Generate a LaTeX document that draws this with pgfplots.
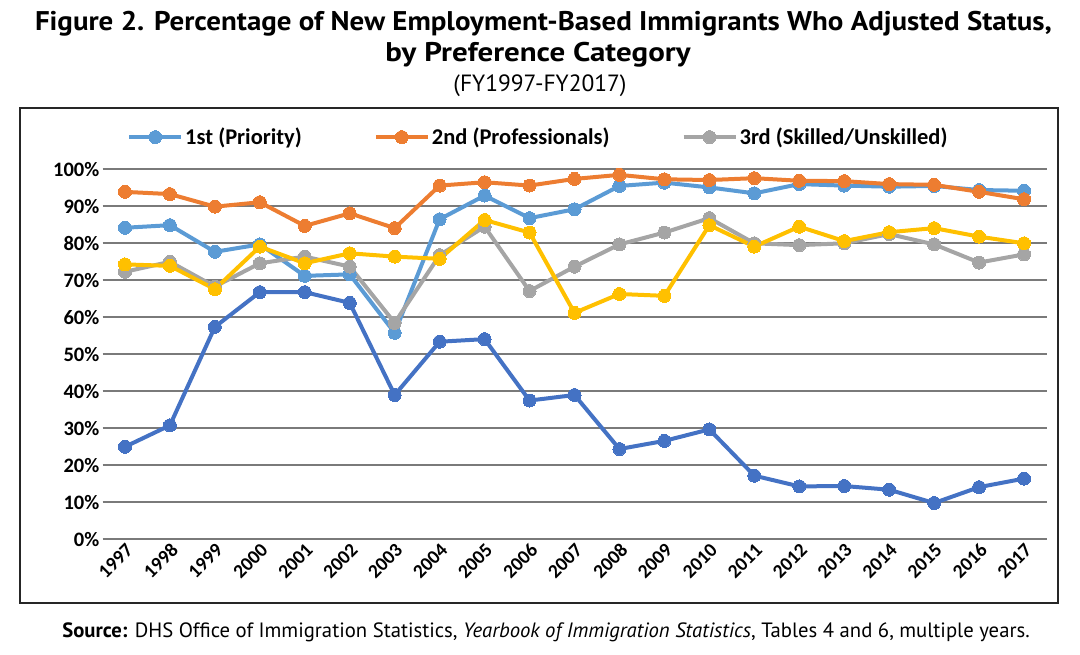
\documentclass[border=0pt]{standalone}
\usepackage{fontspec}
\setmainfont{Carlito}
\newfontfamily\titlefont{PT Sans}
\usepackage{graphicx}
\usepackage{pgfplots}
\pgfplotsset{compat=1.18}
\definecolor{cA}{HTML}{5B9BD5}
\definecolor{cB}{HTML}{ED7D31}
\definecolor{cC}{HTML}{A5A5A5}
\definecolor{cD}{HTML}{FFC000}
\definecolor{cE}{HTML}{4472C4}
\begin{document}
\begin{tikzpicture}[x=1pt,y=1pt]
\path[use as bounding box] (0,0) rectangle (1080,-655);
\node[font=\titlefont\bfseries\fontsize{27}{30}\selectfont, inner sep=0pt] at (543.5,-24) {\resizebox{1017pt}{\height}{Figure 2. Percentage of New Employment-Based Immigrants Who Adjusted Status,}};
\node[font=\titlefont\bfseries\fontsize{27}{30}\selectfont, inner sep=0pt] at (538,-55) {\resizebox{305pt}{\height}{by Preference Category}};
\node[font=\titlefont\fontsize{23.5}{26}\selectfont] at (540,-86) {(FY1997-FY2017)};
\draw[line width=2pt, black!85] (20,-108) rectangle (1058,-603);
\begin{axis}[
  at={(102.5pt,-539.3pt)}, anchor=south west,
  scale only axis, width=944pt, height=370pt,
  xmin=1996.5, xmax=2017.5, ymin=0, ymax=100,
  axis line style={draw=none},
  major tick length=0pt,
  xtick={1997,...,2017},
  xticklabels={1997,1998,1999,2000,2001,2002,2003,2004,2005,2006,2007,2008,2009,2010,2011,2012,2013,2014,2015,2016,2017},
  xticklabel style={rotate=45, anchor=north east, font=\bfseries\fontsize{19.5}{22}\selectfont, inner sep=2pt},
  ytick={10,20,...,100},
  yticklabels={10\%,20\%,30\%,40\%,50\%,60\%,70\%,80\%,90\%,100\%},
  extra y ticks={0}, extra y tick labels={0\%},
  extra y tick style={grid style={draw=black!15, line width=2pt}},
  yticklabel style={font=\bfseries\fontsize{20.5}{22}\selectfont, inner sep=3pt},
  ymajorgrids, major grid style={draw=black!52, line width=2pt},
  clip=false,
  every axis plot/.append style={line width=4pt, line join=round, mark=*, mark size=6.5pt},
  legend columns=3,
  legend style={at={(axis description cs:0.026,1.087)}, anchor=west, draw=none, fill=none,
    font=\bfseries\fontsize{22.5}{26}\selectfont, inner sep=0pt,
    /tikz/every even column/.append style={column sep=70pt}},
  legend image code/.code={\draw[mark repeat=2,mark phase=2,#1] plot coordinates {(0pt,0pt) (26pt,0pt) (52pt,0pt)};},
]
\addplot[color=cA, mark options={fill=cA, draw=cA, line width=0pt}] coordinates {
(1997,84.2)(1998,84.9)(1999,77.7)(2000,79.7)(2001,71.2)(2002,71.6)(2003,55.8)(2004,86.5)(2005,92.9)(2006,86.8)(2007,89.2)(2008,95.5)(2009,96.4)(2010,95.1)(2011,93.5)(2012,96.0)(2013,95.6)(2014,95.3)(2015,95.5)(2016,94.4)(2017,94.2)};
\addlegendentry{1st (Priority)}
\addplot[color=cB, mark options={fill=cB, draw=cB, line width=0pt}] coordinates {
(1997,93.9)(1998,93.3)(1999,89.9)(2000,91.1)(2001,84.7)(2002,88.1)(2003,84.1)(2004,95.6)(2005,96.5)(2006,95.6)(2007,97.4)(2008,98.5)(2009,97.3)(2010,97.1)(2011,97.6)(2012,96.9)(2013,96.8)(2014,96.0)(2015,95.8)(2016,93.9)(2017,91.9)};
\addlegendentry{2nd (Professionals)}
\addplot[color=cC, mark options={fill=cC, draw=cC, line width=0pt}] coordinates {
(1997,72.3)(1998,75.0)(1999,68.3)(2000,74.6)(2001,76.4)(2002,73.7)(2003,58.5)(2004,76.8)(2005,84.5)(2006,67.1)(2007,73.7)(2008,79.7)(2009,82.9)(2010,86.8)(2011,80.0)(2012,79.5)(2013,80.0)(2014,82.5)(2015,79.7)(2016,74.8)(2017,77.0)};
\addlegendentry{3rd (Skilled/Unskilled)}
\addplot[color=cD, mark options={fill=cD, draw=cD, line width=0pt}, forget plot] coordinates {
(1997,74.3)(1998,73.9)(1999,67.6)(2000,79.1)(2001,74.6)(2002,77.3)(2003,76.4)(2004,75.8)(2005,86.3)(2006,82.9)(2007,61.2)(2008,66.3)(2009,65.8)(2010,84.9)(2011,79.1)(2012,84.5)(2013,80.6)(2014,83.0)(2015,84.1)(2016,81.8)(2017,80.0)};
\addplot[color=cE, mark options={fill=cE, draw=cE, line width=0pt}, forget plot] coordinates {
(1997,25.0)(1998,30.8)(1999,57.4)(2000,66.8)(2001,66.8)(2002,63.9)(2003,39.0)(2004,53.4)(2005,54.1)(2006,37.5)(2007,39.0)(2008,24.4)(2009,26.6)(2010,29.7)(2011,17.2)(2012,14.3)(2013,14.4)(2014,13.4)(2015,9.8)(2016,14.1)(2017,16.4)};
\end{axis}
\node[font=\titlefont\fontsize{20.7}{23}\selectfont] at (546,-632) {\textbf{Source:} DHS Office of Immigration Statistics, \textit{Yearbook of Immigration Statistics}, Tables 4 and 6, multiple years.};
\end{tikzpicture}
\end{document}
